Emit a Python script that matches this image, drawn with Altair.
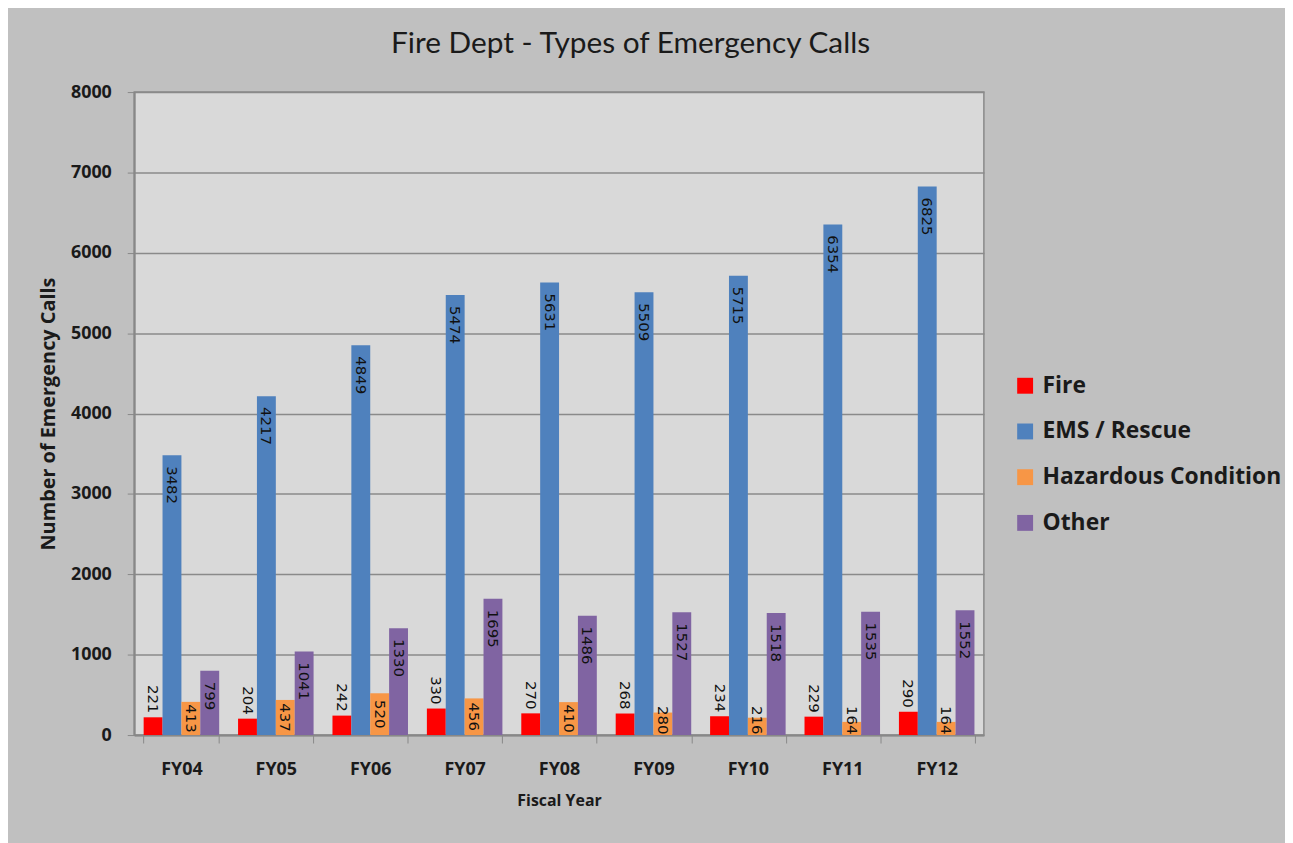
import altair as alt
import pandas as pd

years = ["FY04", "FY05", "FY06", "FY07", "FY08", "FY09", "FY10", "FY11", "FY12"]
series = ["Fire", "EMS / Rescue", "Hazardous Condition", "Other"]
fire = [221, 204, 242, 330, 270, 268, 234, 229, 290]
ems = [3482, 4217, 4849, 5474, 5631, 5509, 5715, 6354, 6825]
hazard = [413, 437, 520, 456, 410, 280, 216, 164, 164]
other = [799, 1041, 1330, 1695, 1486, 1527, 1518, 1535, 1552]
colors = ["#ff0000", "#4f81bd", "#f79646", "#8064a2"]

rows = []
for name, vals in zip(series, [fire, ems, hazard, other]):
    for y, v in zip(years, vals):
        rows.append({"year": y, "series": name, "calls": v})
df = pd.DataFrame(rows)

FONT = "Open Sans"

x = alt.X("year:N", sort=years, title="Fiscal Year",
          scale=alt.Scale(paddingInner=0.2, paddingOuter=0.1),
          axis=alt.Axis(labelAngle=0, labelFontSize=18, labelFontWeight="bold",
                        labelColor="#1a1a1a", titleFontSize=16, titleFontWeight="bold",
                        titleColor="#1a1a1a", tickBand="extent", tickSize=8,
                        tickColor="#888", domainColor="#888", domainWidth=2,
                        labelPadding=18, titlePadding=14, grid=False))
xo = alt.XOffset("series:N", sort=series, scale=alt.Scale(paddingInner=0, paddingOuter=0))
y = alt.Y("calls:Q", title="Number of Emergency Calls",
          scale=alt.Scale(domain=[0, 8000], nice=False),
          axis=alt.Axis(values=list(range(0, 8001, 1000)), format="d", tickSize=7,
                        tickColor="#888", domainColor="#888", domainWidth=2,
                        gridColor="#8a8a8a", gridWidth=1.5, labelFontSize=18,
                        labelFontWeight="bold", labelColor="#1a1a1a", labelPadding=16,
                        titleFontSize=20, titleFontWeight="bold", titleColor="#1a1a1a",
                        titlePadding=12))
color = alt.Color("series:N", sort=series,
                  scale=alt.Scale(domain=series, range=colors),
                  legend=alt.Legend(title=None, orient="none", legendX=885, legendY=284,
                                    symbolType="square", symbolSize=256,
                                    symbolStrokeWidth=0, labelFontSize=23,
                                    labelFontWeight="bold", labelColor="#1a1a1a",
                                    rowPadding=22, labelOffset=6, labelLimit=400))

base = alt.Chart(df)
bars = base.mark_bar().encode(x=x, xOffset=xo, y=y, color=color)

lbl_font = dict(font="DejaVu Sans", fontSize=15, color="#111", angle=90, baseline="middle")

fire_lbl = base.transform_filter(alt.datum.series == "Fire").mark_text(
    align="right", dx=-4, **lbl_font).encode(
    x=x, xOffset=xo, y="calls:Q", text="calls:Q")
end_lbl = base.transform_filter(
    (alt.datum.series == "EMS / Rescue") | (alt.datum.series == "Other")).mark_text(
    align="left", dx=11, **lbl_font).encode(
    x=x, xOffset=xo, y="calls:Q", text="calls:Q")
haz_lbl = base.transform_filter(alt.datum.series == "Hazardous Condition").transform_calculate(
    mid="max(datum.calls / 2, 185)").mark_text(align="center", **lbl_font).encode(
    x=x, xOffset=xo, y="mid:Q", text="calls:Q")

chart = alt.layer(bars, fire_lbl, end_lbl, haz_lbl).properties(
    width=855, height=647,
    title=alt.Title("Fire Dept - Types of Emergency Calls", fontSize=30,
                    fontWeight="normal", font="Lato", color="#1a1a1a", dx=72, offset=24),
    autosize=alt.AutoSizeParams(type="none"),
    padding={"left": 127, "top": 82, "right": 303, "bottom": 106},
    background="#c0c0c0",
).configure(font=FONT).configure_view(fill="#d9d9d9", stroke="#888", strokeWidth=1.5)

chart.save("out.html", embed_options={"renderer": "svg", "actions": False})
